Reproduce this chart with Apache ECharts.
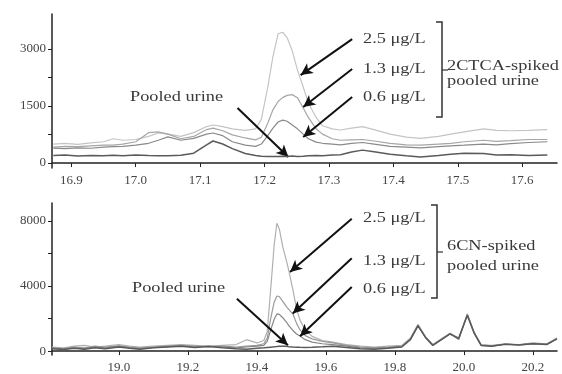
<!DOCTYPE html>
<html><head><meta charset="utf-8">
<script src="https://cdn.jsdelivr.net/npm/echarts@6/dist/echarts.min.js"></script>
<style>html,body{margin:0;padding:0;background:#fff}#c{width:562px;height:374px}</style>
</head><body><div id="c"></div>
<script>
// ---- Top panel (2CTCA) ----
const timesTop = [16.872,16.89,16.91,16.93,16.95,16.965,16.98,17.0,17.02,17.035,17.05,17.07,17.09,17.11,17.12,17.135,17.15,17.17,17.186,17.195,17.205,17.213,17.221,17.228,17.235,17.243,17.251,17.26,17.268,17.28,17.29,17.305,17.318,17.335,17.352,17.37,17.395,17.42,17.442,17.47,17.489,17.51,17.54,17.56,17.582,17.61,17.639];
const top25 = [500,520,490,530,560,640,600,620,700,790,760,700,800,960,1000,960,900,860,900,1150,2000,2800,3400,3440,3300,2950,2450,2000,1580,1200,980,900,870,920,960,880,760,680,650,700,760,820,900,860,850,860,880];
const top13 = [420,440,430,450,470,470,500,560,800,820,760,640,700,880,920,850,740,660,610,680,1050,1400,1620,1720,1780,1800,1720,1450,1200,900,760,640,600,610,620,580,520,480,470,500,520,560,600,570,590,620,620];
const top06 = [395,380,400,390,420,430,440,470,520,600,690,600,650,760,790,720,560,470,440,500,720,920,1080,1130,1100,1000,900,760,640,550,520,500,480,520,540,500,440,420,400,430,450,470,500,480,510,540,560];
const topPooled = [200,210,185,200,190,205,195,210,200,195,190,205,260,480,580,500,380,250,200,180,175,170,175,180,170,185,175,180,190,200,190,210,220,290,340,300,230,190,160,200,230,260,250,210,220,200,215];
const topXTicks = [16.9,17.0,17.1,17.2,17.3,17.4,17.5,17.6];
const topYTicks = [0,750,1500,2250,3000];
const topYLabels = [0,1500,3000];

// ---- Bottom panel (6CN) ----
const timesBot = [18.806,18.84,18.87,18.90,18.93,18.96,19.0,19.03,19.06,19.10,19.14,19.18,19.22,19.26,19.30,19.34,19.37,19.40,19.42,19.43,19.44,19.45,19.458,19.465,19.475,19.485,19.493,19.505,19.515,19.525,19.54,19.56,19.59,19.62,19.66,19.70,19.74,19.78,19.82,19.845,19.867,19.89,19.91,19.935,19.96,19.985,20.01,20.03,20.05,20.08,20.12,20.16,20.20,20.24,20.27];
const bot25 = [250,200,300,350,250,300,400,300,250,300,350,400,350,300,350,400,700,500,650,1200,3800,6500,7850,7500,6400,5600,4900,3700,2600,1900,1300,900,650,550,400,300,250,300,350,800,1650,850,400,750,1100,750,2300,1150,400,350,450,400,500,450,800];
const bot13 = [200,150,250,200,300,250,300,250,200,250,300,350,300,250,300,250,300,350,450,800,2000,3000,3380,3350,3050,2750,2550,2250,1700,1300,950,750,600,500,350,250,200,250,300,750,1600,820,380,720,1080,720,2250,1120,380,320,430,390,470,420,780];
const bot06 = [180,120,200,150,250,200,300,220,150,220,280,330,250,300,250,200,250,300,350,600,1300,1950,2280,2250,2050,1800,1550,1250,1050,920,700,550,450,400,300,200,180,220,280,720,1580,810,360,710,1060,710,2220,1100,360,310,420,380,460,410,760];
const botPooled = [150,100,180,120,200,150,250,180,120,200,250,300,220,280,200,150,120,180,200,220,240,260,280,300,300,290,270,250,240,230,220,230,260,300,220,150,120,180,250,700,1550,800,350,700,1050,800,2200,1100,350,300,420,380,450,400,750];
const botXTicks = [19.0,19.2,19.4,19.6,19.8,20.0,20.2];
const botYTicks = [0,2000,4000,6000,8000];
const botYLabels = [0,4000,8000];

const FONT = '"Liberation Serif", "Times New Roman", serif';
const pair = (ts, vs) => ts.map((t, i) => [t, vs[i]]);

function xAxis(gi, min, max, ticks) {
  return {
    type: 'value', gridIndex: gi, min: min, max: max,
    axisLine: {lineStyle: {color: '#222', width: 1.5}},
    axisTick: {customValues: ticks, length: 4, lineStyle: {color: '#222'}},
    axisLabel: {customValues: ticks, formatter: v => v.toFixed(1), fontFamily: FONT, fontSize: 13, color: '#444', margin: 6},
    splitLine: {show: false}
  };
}
function yAxis(gi, min, max, ticks, labels) {
  return {
    type: 'value', gridIndex: gi, min: min, max: max,
    axisLine: {show: true, lineStyle: {color: '#222', width: 1.5}},
    axisTick: {show: true, customValues: ticks, length: 4, lineStyle: {color: '#222'}},
    axisLabel: {customValues: labels, formatter: v => String(Math.round(v)), fontFamily: FONT, fontSize: 13, color: '#444', margin: 6},
    splitLine: {show: false}
  };
}
function line(gi, data, color, w, z) {
  return {type: 'line', xAxisIndex: gi, yAxisIndex: gi, data: data, showSymbol: false, smooth: false,
    lineStyle: {color: color, width: w}, z: z, silent: true, animation: false};
}
function arrows(gi, list) {
  return {type: 'line', xAxisIndex: gi, yAxisIndex: gi, data: [], silent: true, animation: false,
    markLine: {silent: true, animation: false, symbol: ['none', 'arrow'], symbolSize: [9, 12],
      lineStyle: {color: '#111', width: 2, type: 'solid'}, label: {show: false},
      data: list.map(a => [{coord: a[0]}, {coord: a[1]}])}, z: 10};
}

const topArrows = [
  [[17.158, 1447], [17.237, 158]],
  [[17.336, 3261], [17.256, 2314]],
  [[17.336, 2472], [17.260, 1473]],
  [[17.336, 1736], [17.260, 684]]
];
const botArrows = [
  [[19.342, 3212], [19.490, 364]],
  [[19.675, 8120], [19.496, 4848]],
  [[19.675, 5696], [19.504, 2303]],
  [[19.675, 3939], [19.525, 909]]
];

function txt(x, y, s) {
  return {type: 'text', x: x, y: y, scaleX: 1.22, silent: true,
    style: {text: s, font: '15px ' + FONT, fill: '#3a3a3a', textAlign: 'left', textVerticalAlign: 'middle'}};
}
function bracket(x, y0, y1, ym) {
  return [
    {type: 'polyline', silent: true, shape: {points: [[x - 6, y0], [x, y0], [x, y1], [x - 6, y1]]}, style: {stroke: '#333', lineWidth: 1.5, fill: null}},
    {type: 'line', silent: true, shape: {x1: x, y1: ym, x2: x + 6, y2: ym}, style: {stroke: '#333', lineWidth: 1.2}}
  ];
}

const chart = echarts.init(document.getElementById('c'), null, {renderer: 'canvas'});
chart.setOption({
  backgroundColor: '#fff',
  animation: false,
  grid: [
    {left: 52, top: 14, width: 505, height: 154},
    {left: 52, top: 203, width: 505, height: 154}
  ],
  xAxis: [xAxis(0, 16.870, 17.654, topXTicks), xAxis(1, 18.806, 20.27, botXTicks)],
  yAxis: [yAxis(0, -130, 3920, topYTicks, topYLabels), yAxis(1, -240, 9090, botYTicks, botYLabels)],
  series: [
    line(0, pair(timesTop, top25), '#c4c4c4', 1.2, 2),
    line(0, pair(timesTop, top13), '#a6a6a6', 1.2, 3),
    line(0, pair(timesTop, top06), '#8a8a8a', 1.2, 4),
    line(0, pair(timesTop, topPooled), '#5a5a5a', 1.5, 5),
    line(1, pair(timesBot, bot25), '#b0b0b0', 1.2, 2),
    line(1, pair(timesBot, bot13), '#9a9a9a', 1.2, 3),
    line(1, pair(timesBot, bot06), '#858585', 1.2, 4),
    line(1, pair(timesBot, botPooled), '#5a5a5a', 1.5, 5),
    arrows(0, topArrows),
    arrows(1, botArrows)
  ],
  graphic: [
    txt(130, 97, 'Pooled urine'),
    txt(363, 39, '2.5 μg/L'),
    txt(363, 69, '1.3 μg/L'),
    txt(363, 97, '0.6 μg/L'),
    txt(447, 66, '2CTCA-spiked'),
    txt(447, 81, 'pooled urine'),
    ...bracket(442, 22, 117, 70),
    txt(132, 288, 'Pooled urine'),
    txt(363, 218, '2.5 μg/L'),
    txt(363, 261, '1.3 μg/L'),
    txt(363, 289, '0.6 μg/L'),
    txt(447, 246, '6CN-spiked'),
    txt(447, 266, 'pooled urine'),
    ...bracket(437, 205, 298, 252)
  ]
});
</script></body></html>
